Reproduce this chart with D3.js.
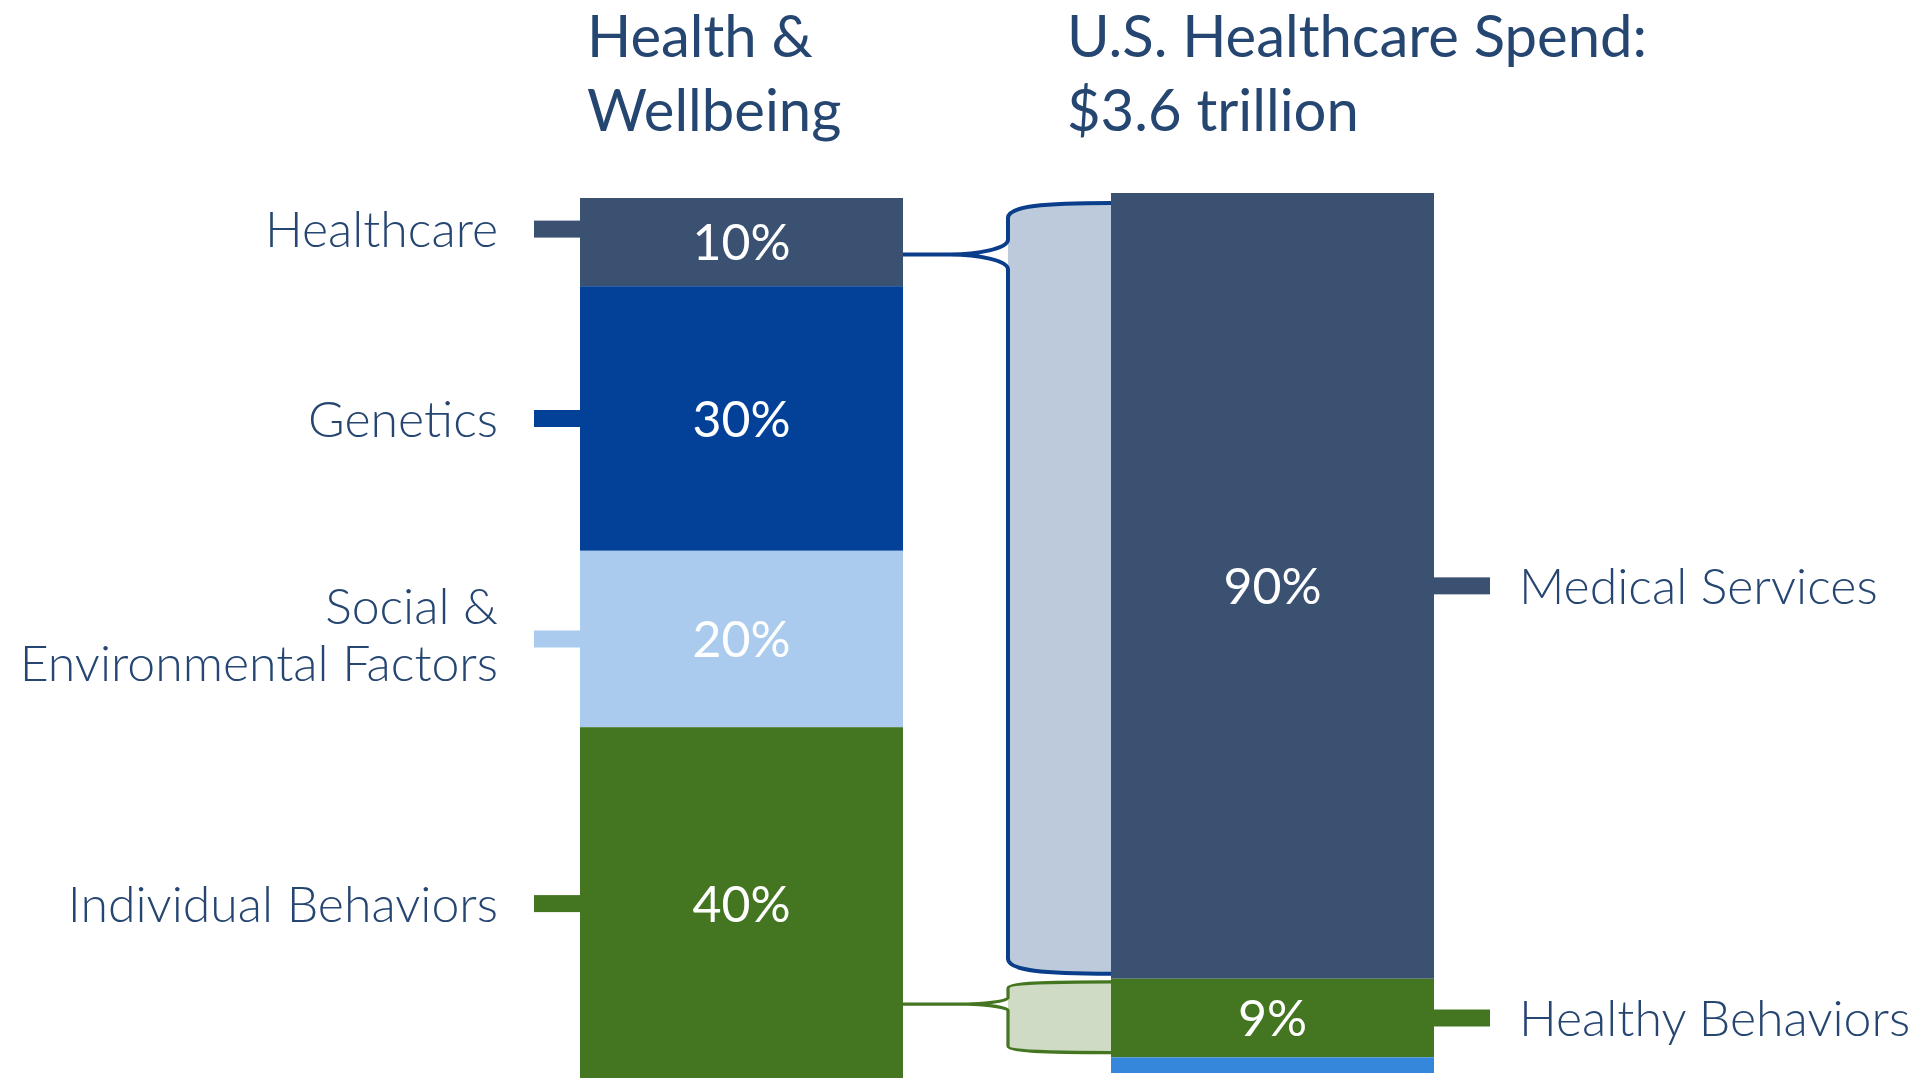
<!DOCTYPE html>
<html>
<head>
<meta charset="utf-8">
<script src="https://cdn.jsdelivr.net/npm/d3@7"></script>
<style>
  body { margin: 0; background: #fff; }
  svg { display: block; font-family: Lato, "Open Sans", sans-serif; }
</style>
</head>
<body>
<svg width="1919" height="1078"></svg>
<script>
// left column: what drives health & wellbeing (%)
const wellbeingFactors = ["Healthcare", "Genetics", "Social & Environmental Factors", "Individual Behaviors"];
const wellbeingShares = [10, 30, 20, 40];
const wellbeingLabels = [["Healthcare"], ["Genetics"], ["Social &", "Environmental Factors"], ["Individual Behaviors"]];

// right column: where US healthcare money goes (%)
const spendCategories = ["Medical Services", "Healthy Behaviors", "Other"];
const spendShares = [90, 9, 1.8];
const spendLabels = [["Medical Services"], ["Healthy Behaviors"], []];

const columnTitles = [["Health &", "Wellbeing"], ["U.S. Healthcare Spend:", "$3.6 trillion"]];

// brace links: left segment -> right segment, tip = where on the left segment the brace points
const links = [
    { from: "Healthcare", to: "Medical Services", tip: 0.64 },
    { from: "Individual Behaviors", to: "Healthy Behaviors", tip: 0.785 }
];

const colors = {
    "Healthcare": "#3a5172",
    "Genetics": "#034199",
    "Social & Environmental Factors": "#aacbee",
    "Individual Behaviors": "#447621",
    "Medical Services": "#3a5172",
    "Healthy Behaviors": "#447621",
    "Other": "#3487db"
};
const braceStyle = {
    "Medical Services": { stroke: "#0a3d8a", fill: "#bccadb", width: 4 },
    "Healthy Behaviors": { stroke: "#447621", fill: "#cfdbc5", width: 3.2 }
};
const textColor = "#264672";

const svg = d3.select("svg");

function stack(keys, values) {
    let acc = 0;
    return keys.map((k, i) => {
        const d = { key: k, value: values[i], y0: acc, y1: acc + values[i], i: i };
        acc += values[i];
        return d;
    });
}
const left = stack(wellbeingFactors, wellbeingShares);
const right = stack(spendCategories, spendShares);

const x = d3.scaleBand().domain(["left", "right"]).range([580, 1434]).paddingInner(0.3917);
const bw = x.bandwidth();
const yL = d3.scaleLinear().domain([0, d3.sum(wellbeingShares)]).range([198, 1080]);
const yR = d3.scaleLinear().domain([0, d3.sum(spendShares)]).range([193, 1073]);

const labelNudge = { "Healthcare": -13 };

// titles
columnTitles.forEach((lines, c) => {
    const tx = c === 0 ? x("left") + 7 : x("right") - 44;
    const t = svg.append("text")
        .attr("y", 57)
        .attr("fill", textColor)
        .attr("font-size", 58)
        .attr("font-weight", 400);
    lines.forEach((l, i) => t.append("tspan")
        .attr("x", tx)
        .attr("dy", i === 0 ? 0 : 74)
        .text(l));
});

// braces (drawn under the bars)
links.forEach(lk => {
    const a = left.find(d => d.key === lk.from);
    const b = right.find(d => d.key === lk.to);
    const st = braceStyle[lk.to];
    const xR = x("right");
    const xB = xR - 103;
    const h = yR(b.y1) - yR(b.y0);
    const yTop = yR(b.y0) + Math.min(10, h * 0.04);
    const yBot = yR(b.y1) - Math.min(5, h * 0.06);
    const yTip = yL(a.y0) + lk.tip * (yL(a.y1) - yL(a.y0));
    const dd = Math.min(15, h * 0.08);
    const xTip = xB - (40 + (dd - 6) * 2);
    const arm = (xR - xB) * 0.35;

    const fillPath = d3.path();
    fillPath.moveTo(xR, yTop);
    fillPath.bezierCurveTo(xB + arm, yTop, xB, yTop + dd * 0.2, xB, yTop + dd);
    fillPath.lineTo(xB, yBot - dd);
    fillPath.bezierCurveTo(xB, yBot - dd * 0.2, xB + arm, yBot, xR, yBot);
    fillPath.closePath();
    svg.append("path").attr("d", fillPath.toString()).attr("fill", st.fill);

    const p = d3.path();
    p.moveTo(xR, yTop);
    p.bezierCurveTo(xB + arm, yTop, xB, yTop + dd * 0.2, xB, yTop + dd);
    p.lineTo(xB, yTip - dd);
    p.bezierCurveTo(xB, yTip - dd * 0.4, xB - 30, yTip, xTip, yTip);
    p.lineTo(x("left") + bw, yTip);
    p.moveTo(xTip, yTip);
    p.bezierCurveTo(xB - 30, yTip, xB, yTip + dd * 0.4, xB, yTip + dd);
    p.lineTo(xB, yBot - dd);
    p.bezierCurveTo(xB, yBot - dd * 0.2, xB + arm, yBot, xR, yBot);
    svg.append("path")
        .attr("d", p.toString())
        .attr("fill", "none")
        .attr("stroke", st.stroke)
        .attr("stroke-width", st.width)
        .attr("stroke-linejoin", "round");
});

function drawColumn(data, col, y, labels, side) {
    const g = svg.append("g").attr("class", "col-" + col);
    const x0 = x(col);

    g.selectAll(".seg")
        .data(data)
        .enter().append("rect")
        .attr("class", "seg")
        .attr("x", x0)
        .attr("y", d => y(d.y0))
        .attr("width", bw)
        .attr("height", d => y(d.y1) - y(d.y0))
        .attr("fill", d => colors[d.key]);

    const labelled = data.filter(d => labels[d.i].length);

    g.selectAll(".pct")
        .data(labelled)
        .enter().append("text")
        .attr("class", "pct")
        .attr("x", x0 + bw / 2)
        .attr("y", d => (y(d.y0) + y(d.y1)) / 2)
        .attr("dy", "0.36em")
        .attr("text-anchor", "middle")
        .attr("fill", "#fff")
        .attr("font-size", 50)
        .text(d => d.value + "%");

    const mid = d => (y(d.y0) + y(d.y1)) / 2 + (labelNudge[d.key] || 0);
    const stubLen = side === "left" ? 46 : 56;

    g.selectAll(".stub")
        .data(labelled)
        .enter().append("rect")
        .attr("class", "stub")
        .attr("x", side === "left" ? x0 - stubLen : x0 + bw)
        .attr("y", d => mid(d) - 8.5)
        .attr("width", stubLen)
        .attr("height", 17)
        .attr("fill", d => colors[d.key]);

    const lab = g.selectAll(".lab")
        .data(labelled)
        .enter().append("text")
        .attr("class", "lab")
        .attr("text-anchor", side === "left" ? "end" : "start")
        .attr("fill", textColor)
        .attr("font-size", 50)
        .attr("font-weight", 300);

    lab.each(function(d) {
        const lines = labels[d.i];
        const lx = side === "left" ? x0 - 82 : x0 + bw + 85;
        lines.forEach((l, i) => {
            d3.select(this).append("tspan")
                .attr("x", lx)
                .attr("y", mid(d) + (i - (lines.length - 1) / 2) * 57 - (lines.length > 1 ? 5 : 0))
                .attr("dy", "0.36em")
                .text(l);
        });
    });
}

drawColumn(left, "left", yL, wellbeingLabels, "left");
drawColumn(right, "right", yR, spendLabels, "right");
</script>
</body>
</html>
